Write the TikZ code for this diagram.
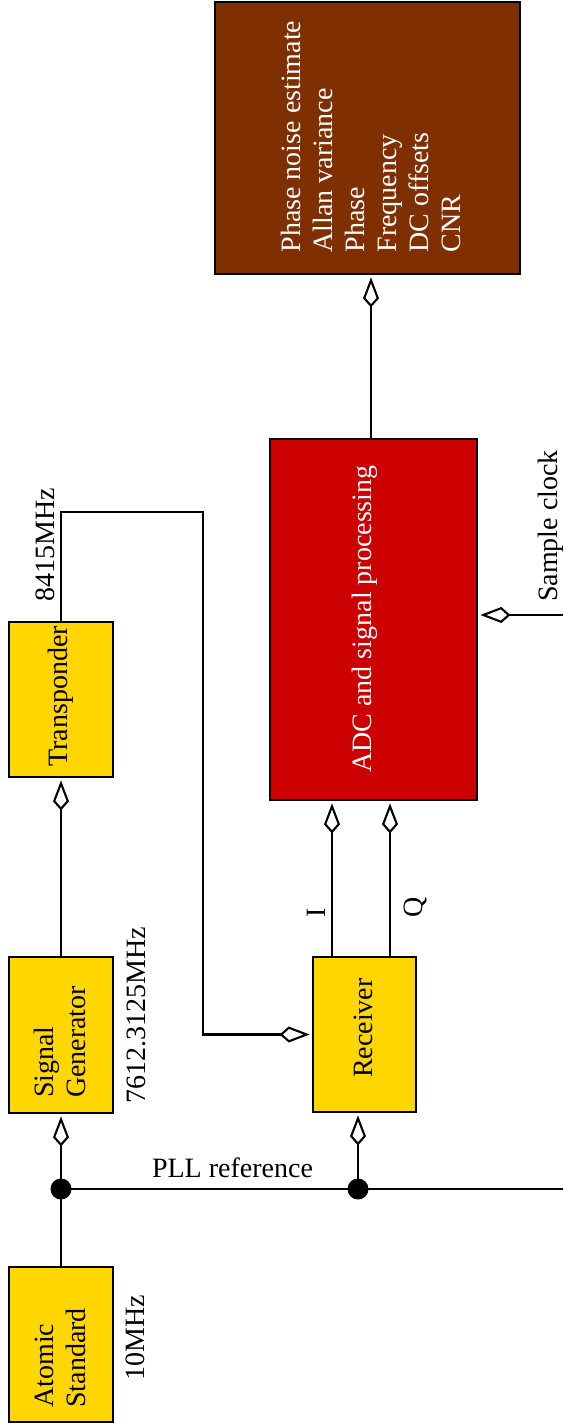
\documentclass[tikz,border=0pt]{standalone}
\usepackage{fontspec}
\setmainfont{Liberation Serif}
\usetikzlibrary{arrows.meta}
\definecolor{boxyellow}{RGB}{255,214,0}
\definecolor{boxred}{RGB}{204,0,0}
\definecolor{boxbrown}{RGB}{128,48,0}
\tikzset{
  blockbox/.style={draw=black, line width=2.7pt, inner sep=0pt},
  lbl/.style={rotate=90, inner sep=0pt},
  conn/.style={line width=2.1pt, draw=black},
  diam/.style={conn, shorten >=2pt, -{Kite[open, length=30pt, width=16pt, inset=9pt]}},
  junction/.style={circle, fill=black, minimum size=21pt, inner sep=0pt},
}
\begin{document}
\begin{tikzpicture}[x=1pt, y=-1pt, font=\fontsize{28}{32}\selectfont]
\useasboundingbox (0,0) rectangle (563,1423);

% blocks
\node[blockbox, fill=boxyellow, minimum width=104pt, minimum height=155pt] (atomic) at (61,1344.5) {};
\node[blockbox, fill=boxyellow, minimum width=104pt, minimum height=156pt] (siggen) at (61,1035) {};
\node[blockbox, fill=boxyellow, minimum width=104pt, minimum height=155pt] (transp) at (61,699.5) {};
\node[blockbox, fill=boxyellow, minimum width=103pt, minimum height=155pt] (recv) at (364.5,1034.5) {};
\node[blockbox, fill=boxred, minimum width=207pt, minimum height=361pt] (adc) at (373.5,619.5) {};
\node[blockbox, fill=boxbrown, minimum width=305pt, minimum height=272pt] (out) at (367.5,138) {};

% block texts
\node[lbl, align=left] (atomictxt) at (60,1358) {Atomic\\Standard};
\node[lbl, align=left] (siggentxt) at (60,1042) {Signal\\Generator};
\node[lbl] (transptxt) at (61,696.5) {Transponder};
\node[lbl] (recvtxt) at (363,1028) {Receiver};
\node[lbl, text=white] (adctxt) at (364.5,619) {ADC and signal processing};
\node[lbl, align=left, text=white] (outtxt) at (370.5,136.5) {Phase noise estimate\\Allan variance\\Phase\\Frequency\\DC offsets\\CNR};

% junctions
\node[junction] (d1) at (61,1189) {};
\node[junction] (d2) at (358,1189) {};

% helper coordinates
\coordinate (pllend) at (563,1189);
\coordinate (c1) at (61,512);
\coordinate (c2) at (203,512);
\coordinate (icol) at (332,880);
\coordinate (qcol) at (390,880);
\coordinate (ocol) at (371,350);
\coordinate (sclk) at (563,615);

% connectors
\draw[conn] (atomic.north) -- (d1.center);
\draw[diam] (d1.center) -- (siggen.south);
\draw[conn] (d1.center) -- (d2.center) -- (pllend);
\draw[diam] (d2.center) -- (d2 |- recv.south);
\draw[diam] (siggen.north) -- (transp.south);
\draw[diam] (transp.north) -- (c1) -- (c2) -- (c2 |- recv.west) -- (recv.west);
\draw[diam] (icol |- recv.north) -- (icol |- adc.south);
\draw[diam] (qcol |- recv.north) -- (qcol |- adc.south);
\draw[diam] (ocol |- adc.north) -- (ocol |- out.south);
\draw[diam] (sclk) -- (sclk -| adc.east);

% labels
\node[lbl] (l8415) at (45.5,545) {8415MHz};
\node[lbl] (l10) at (135.5,1337.5) {10MHz};
\node[lbl] (l7612) at (136,1015) {7612.3125MHz};
\node[inner sep=0pt] (lpll) at (232.5,1167.5) {PLL reference};
\node[lbl] (li) at (316.5,913) {I};
\node[lbl] (lq) at (415,907.5) {Q};
\node[lbl] (lsc) at (550.5,526) {Sample clock};
\end{tikzpicture}
\end{document}
